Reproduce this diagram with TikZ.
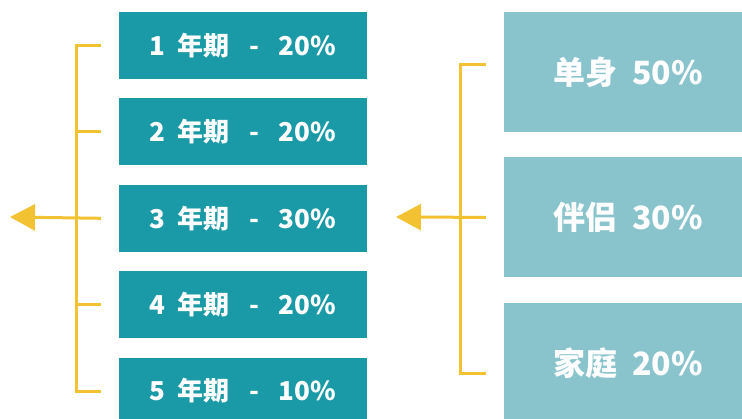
\documentclass[tikz,border=0pt]{standalone}
\usepackage{fontspec}
\setmainfont{Noto Sans CJK SC}
\usetikzlibrary{positioning,arrows.meta}

\definecolor{termteal}{HTML}{1A99A6}
\definecolor{groupteal}{HTML}{89C4CC}
\definecolor{mustard}{HTML}{F2C232}

\newcommand{\gap}{\hspace{0.75em}}

\tikzset{
  term/.style={fill=termteal, text=white, inner sep=0pt,
    minimum width=248pt, minimum height=67pt,
    font=\bfseries\fontsize{26}{26}\selectfont},
  group/.style={fill=groupteal, text=white, inner sep=0pt,
    minimum width=248pt, minimum height=120pt,
    font=\bfseries\fontsize{32}{32}\selectfont},
  bracket/.style={mustard, line width=3pt},
  pointer/.style={bracket, -{Triangle[length=25pt,width=26pt]}}
}

\begin{document}
\begin{tikzpicture}[x=1pt, y=-1pt]
    \useasboundingbox (0,0) rectangle (742,419);

    % terms
    \node[term] (y1) at (243,45.5) {1\ \ 年期\gap-\gap20\%};
    \node[term, below=19pt of y1] (y2) {2\ \ 年期\gap-\gap20\%};
    \node[term, below=19pt of y2] (y3) {3\ \ 年期\gap-\gap30\%};
    \node[term, below=19pt of y3] (y4) {4\ \ 年期\gap-\gap20\%};
    \node[term, below=19pt of y4] (y5) {5\ \ 年期\gap-\gap10\%};

    % groups
    \node[group] (g1) at (628,72) {单身\ \ 50\%};
    \node[group, below=25pt of g1] (g2) {伴侣\ \ 30\%};
    \node[group, below=25pt of g2] (g3) {家庭\ \ 20\%};

    \coordinate (out1) at (10,217);
    \coordinate (out2) at (396,217);

    % left bracket
    \draw[bracket] ([xshift=-18pt]y1.west) -| ([xshift=-42pt]y5.west) -- ([xshift=-18pt]y5.west);
    \foreach \i in {2,4}
        \draw[bracket] ([xshift=-18pt]y\i.west) -- ([xshift=-42pt]y\i.west);
    \draw[pointer] ([xshift=-18pt]y3.west) -- (out1);

    % right bracket
    \draw[bracket] ([xshift=-18pt, yshift=7pt]g1.west) -| ([xshift=-43pt, yshift=-11pt]g3.west) -- ([xshift=-18pt, yshift=-11pt]g3.west);
    \draw[pointer] ([xshift=-18pt]g2.west) -- (out2);
\end{tikzpicture}
\end{document}
